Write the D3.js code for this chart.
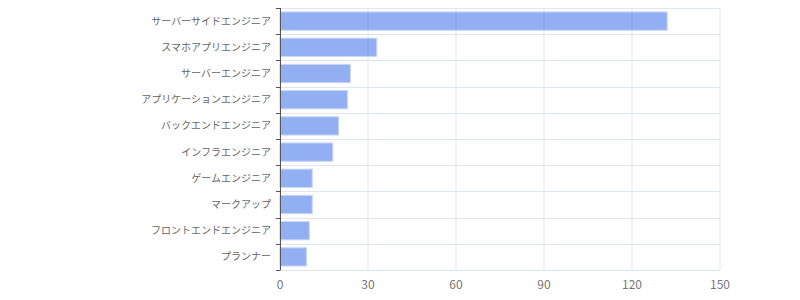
<!DOCTYPE html>
<html><head><meta charset="utf-8">
<script src="https://cdn.jsdelivr.net/npm/d3@7"></script>
<style>body{margin:0;background:#fff}</style>
</head><body><svg id="c" width="800" height="300"></svg>
<script>
const categories = ["サーバーサイドエンジニア","スマホアプリエンジニア","サーバーエンジニア","アプリケーションエンジニア","バックエンドエンジニア","インフラエンジニア","ゲームエンジニア","マークアップ","フロントエンドエンジニア","プランナー"];
const values = [132,33,24,23,20,18,11,11,10,9];
const xTicks = [0,30,60,90,120,150];

const svg = d3.select("#c");
const m = {l:280, r:720, t:8, b:270};
const x = d3.scaleLinear().domain([0,150]).range([m.l, m.r]);
const y = d3.scaleBand().domain(categories).range([m.t, m.b]).paddingInner(0.3).paddingOuter(0.15);
const yb = d3.scaleLinear().domain([0, categories.length]).range([m.t, m.b]);
const font = "'Noto Sans CJK JP','Noto Sans',sans-serif";

// grid
const grid = svg.append("g");
grid.selectAll("line.v").data(xTicks).join("line")
  .attr("x1", d=>x(d)).attr("x2", d=>x(d)).attr("y1", m.t).attr("y2", m.b)
  .attr("stroke", "#dfe4f2").attr("stroke-width", 1);
grid.selectAll("line.h").data(d3.range(categories.length+1)).join("line")
  .attr("x1", m.l).attr("x2", m.r).attr("y1", d=>Math.round(yb(d))+0.5).attr("y2", d=>Math.round(yb(d))+0.5)
  .attr("stroke", "#dfe4f2").attr("stroke-width", 1);

// bars
svg.append("g").selectAll("rect").data(categories).join("rect")
  .attr("x", x(0)).attr("y", d=>y(d))
  .attr("width", (d,i)=>x(values[i])-x(0)).attr("height", y.bandwidth())
  .attr("fill", "#4A7BE8").attr("fill-opacity", 0.6)
  .attr("stroke", "#c9d7f7").attr("stroke-width", 1);

// y axis line and boundary ticks
const ya = svg.append("g");
ya.append("line").attr("x1", m.l+0.5).attr("x2", m.l+0.5).attr("y1", m.t).attr("y2", m.b)
  .attr("stroke", "#555").attr("stroke-width", 1);
ya.selectAll("line.t").data(d3.range(categories.length+1)).join("line")
  .attr("x1", m.l-4).attr("x2", m.l+0.5).attr("y1", d=>Math.round(yb(d))+0.5).attr("y2", d=>Math.round(yb(d))+0.5)
  .attr("stroke", "#555").attr("stroke-width", 1);
ya.selectAll("text").data(categories).join("text")
  .attr("x", m.l-9).attr("y", d=>y(d)+y.bandwidth()/2).attr("dy", "0.35em")
  .attr("text-anchor", "end").attr("font-family", font).attr("font-size", 10)
  .attr("fill", "#666").text(d=>d);

// x tick labels
svg.append("g").selectAll("text").data(xTicks).join("text")
  .attr("x", d=>x(d)).attr("y", 289).attr("text-anchor", "middle")
  .attr("font-family", font).attr("font-size", 12).attr("fill", "#777").text(d=>d);
</script></body></html>
